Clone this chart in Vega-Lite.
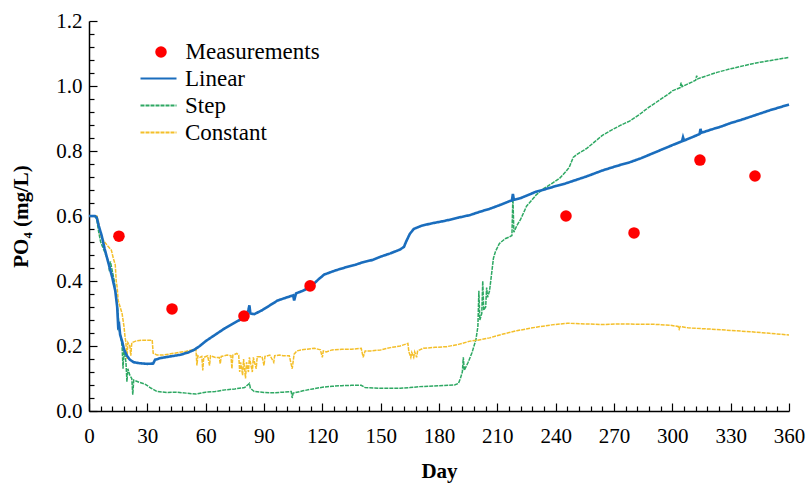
{
  "$schema": "https://vega.github.io/schema/vega-lite/v6.json",
  "width": 700,
  "height": 390,
  "autosize": {"type": "none"},
  "padding": {"left": 89, "top": 21, "right": 17, "bottom": 73},
  "background": "white",
  "config": {"view": {"stroke": null}, "font": "Liberation Serif",
    "legend": {"title": null, "labelFont": "Liberation Serif", "labelFontSize": 23, "labelColor": "black", "padding": 0}},
  "datasets": {
    "linear": [
      {"day":0,"value":0.60},{"day":3,"value":0.60},{"day":4,"value":0.595},{"day":5,"value":0.57},{"day":6.5,"value":0.54},{"day":8,"value":0.50},{"day":10,"value":0.455},{"day":12,"value":0.41},{"day":13.5,"value":0.37},{"day":14.5,"value":0.32},{"day":15,"value":0.26},{"day":15.5,"value":0.265},{"day":16,"value":0.235},{"day":17,"value":0.215},{"day":18,"value":0.19},{"day":19.5,"value":0.17},{"day":21,"value":0.158},{"day":23,"value":0.15},{"day":26,"value":0.147},{"day":30,"value":0.145},{"day":33,"value":0.146},{"day":34,"value":0.158},{"day":37,"value":0.163},{"day":42,"value":0.168},{"day":47,"value":0.173},{"day":51,"value":0.18},{"day":54,"value":0.188},{"day":57,"value":0.20},{"day":60,"value":0.215},{"day":65,"value":0.235},{"day":70,"value":0.255},{"day":75,"value":0.272},{"day":79,"value":0.285},{"day":81,"value":0.295},{"day":82,"value":0.312},{"day":82.5,"value":0.325},{"day":83,"value":0.30},{"day":85,"value":0.298},{"day":89,"value":0.31},{"day":93,"value":0.325},{"day":97,"value":0.34},{"day":102,"value":0.35},{"day":105,"value":0.356},{"day":105.5,"value":0.34},{"day":106.5,"value":0.362},{"day":110,"value":0.37},{"day":114,"value":0.382},{"day":118,"value":0.405},{"day":121,"value":0.42},{"day":127,"value":0.433},{"day":132,"value":0.442},{"day":137,"value":0.45},{"day":141,"value":0.458},{"day":146,"value":0.465},{"day":150,"value":0.475},{"day":155,"value":0.485},{"day":160,"value":0.497},{"day":162,"value":0.505},{"day":163,"value":0.52},{"day":165,"value":0.545},{"day":167,"value":0.56},{"day":171,"value":0.57},{"day":176,"value":0.577},{"day":183,"value":0.585},{"day":190,"value":0.595},{"day":196,"value":0.603},{"day":201,"value":0.613},{"day":206,"value":0.622},{"day":211,"value":0.633},{"day":216,"value":0.645},{"day":217.5,"value":0.648},{"day":218,"value":0.668},{"day":218.5,"value":0.65},{"day":222,"value":0.655},{"day":226,"value":0.665},{"day":230,"value":0.675},{"day":235,"value":0.683},{"day":240,"value":0.692},{"day":245,"value":0.70},{"day":250,"value":0.71},{"day":256,"value":0.722},{"day":264,"value":0.74},{"day":272,"value":0.755},{"day":278,"value":0.765},{"day":284,"value":0.778},{"day":290,"value":0.793},{"day":296,"value":0.808},{"day":300,"value":0.818},{"day":305,"value":0.83},{"day":305.5,"value":0.842},{"day":306,"value":0.832},{"day":310,"value":0.842},{"day":314,"value":0.852},{"day":314.5,"value":0.868},{"day":315,"value":0.856},{"day":320,"value":0.866},{"day":325,"value":0.875},{"day":330,"value":0.886},{"day":335,"value":0.895},{"day":340,"value":0.905},{"day":345,"value":0.915},{"day":350,"value":0.925},{"day":355,"value":0.934},{"day":360,"value":0.943}
    ],
    "step": [
      {"day":0,"value":0.60},{"day":3,"value":0.60},{"day":4,"value":0.59},{"day":5,"value":0.55},{"day":6,"value":0.52},{"day":8,"value":0.49},{"day":10,"value":0.46},{"day":10.5,"value":0.43},{"day":11,"value":0.46},{"day":12,"value":0.43},{"day":13,"value":0.40},{"day":14,"value":0.35},{"day":15,"value":0.30},{"day":15.5,"value":0.25},{"day":16,"value":0.24},{"day":17,"value":0.20},{"day":17.5,"value":0.13},{"day":18,"value":0.19},{"day":19,"value":0.15},{"day":19.5,"value":0.09},{"day":20,"value":0.13},{"day":21,"value":0.11},{"day":22,"value":0.10},{"day":22.5,"value":0.05},{"day":23,"value":0.095},{"day":26,"value":0.088},{"day":29,"value":0.082},{"day":32,"value":0.07},{"day":35,"value":0.06},{"day":40,"value":0.057},{"day":45,"value":0.058},{"day":50,"value":0.055},{"day":55,"value":0.052},{"day":60,"value":0.058},{"day":65,"value":0.06},{"day":70,"value":0.065},{"day":75,"value":0.068},{"day":80,"value":0.072},{"day":82.5,"value":0.085},{"day":83,"value":0.07},{"day":85,"value":0.06},{"day":90,"value":0.057},{"day":95,"value":0.056},{"day":100,"value":0.058},{"day":104,"value":0.06},{"day":104.5,"value":0.04},{"day":105,"value":0.055},{"day":110,"value":0.062},{"day":115,"value":0.068},{"day":120,"value":0.073},{"day":125,"value":0.076},{"day":130,"value":0.078},{"day":135,"value":0.079},{"day":140,"value":0.079},{"day":142,"value":0.072},{"day":150,"value":0.07},{"day":160,"value":0.07},{"day":165,"value":0.072},{"day":170,"value":0.075},{"day":180,"value":0.078},{"day":188,"value":0.08},{"day":190,"value":0.085},{"day":191,"value":0.10},{"day":192,"value":0.12},{"day":192.5,"value":0.165},{"day":193,"value":0.125},{"day":195,"value":0.15},{"day":197,"value":0.18},{"day":199,"value":0.22},{"day":200,"value":0.26},{"day":200.5,"value":0.37},{"day":201,"value":0.28},{"day":202,"value":0.30},{"day":202.5,"value":0.40},{"day":203,"value":0.31},{"day":204,"value":0.32},{"day":204.5,"value":0.38},{"day":205,"value":0.35},{"day":206,"value":0.37},{"day":207,"value":0.42},{"day":208,"value":0.47},{"day":209,"value":0.49},{"day":211,"value":0.515},{"day":214,"value":0.53},{"day":216,"value":0.535},{"day":217.5,"value":0.54},{"day":218,"value":0.66},{"day":218.5,"value":0.55},{"day":220,"value":0.57},{"day":222,"value":0.59},{"day":225,"value":0.63},{"day":230,"value":0.665},{"day":234,"value":0.685},{"day":238,"value":0.70},{"day":242,"value":0.716},{"day":245,"value":0.735},{"day":247,"value":0.75},{"day":249,"value":0.78},{"day":251,"value":0.79},{"day":256,"value":0.808},{"day":260,"value":0.828},{"day":264,"value":0.848},{"day":268,"value":0.862},{"day":273,"value":0.878},{"day":278,"value":0.892},{"day":283,"value":0.912},{"day":288,"value":0.935},{"day":293,"value":0.955},{"day":298,"value":0.975},{"day":300,"value":0.985},{"day":304,"value":0.995},{"day":304.5,"value":1.01},{"day":305,"value":0.998},{"day":310,"value":1.012},{"day":312,"value":1.018},{"day":312.5,"value":1.032},{"day":313,"value":1.022},{"day":318,"value":1.032},{"day":323,"value":1.042},{"day":330,"value":1.053},{"day":335,"value":1.06},{"day":340,"value":1.067},{"day":345,"value":1.073},{"day":350,"value":1.078},{"day":355,"value":1.083},{"day":360,"value":1.088}
    ],
    "constant": [
      {"day":0,"value":0.60},{"day":4,"value":0.60},{"day":5,"value":0.58},{"day":6,"value":0.54},{"day":7,"value":0.53},{"day":8,"value":0.52},{"day":10,"value":0.505},{"day":11.5,"value":0.495},{"day":12.5,"value":0.47},{"day":13.5,"value":0.45},{"day":14,"value":0.40},{"day":14.5,"value":0.38},{"day":15,"value":0.34},{"day":16,"value":0.32},{"day":17,"value":0.30},{"day":18,"value":0.26},{"day":18.5,"value":0.23},{"day":19,"value":0.21},{"day":19.5,"value":0.16},{"day":20,"value":0.21},{"day":21,"value":0.20},{"day":21.5,"value":0.17},{"day":22,"value":0.21},{"day":24,"value":0.215},{"day":27,"value":0.218},{"day":30,"value":0.218},{"day":32.5,"value":0.218},{"day":33,"value":0.178},{"day":35,"value":0.172},{"day":38,"value":0.172},{"day":42,"value":0.176},{"day":46,"value":0.18},{"day":50,"value":0.184},{"day":53,"value":0.188},{"day":55,"value":0.19},{"day":55.5,"value":0.14},{"day":56,"value":0.17},{"day":57,"value":0.165},{"day":58,"value":0.168},{"day":58.5,"value":0.125},{"day":59,"value":0.165},{"day":61,"value":0.17},{"day":62,"value":0.14},{"day":62.5,"value":0.17},{"day":65,"value":0.165},{"day":67,"value":0.165},{"day":67.5,"value":0.145},{"day":68,"value":0.168},{"day":71,"value":0.172},{"day":73,"value":0.17},{"day":73.5,"value":0.13},{"day":74,"value":0.172},{"day":76,"value":0.177},{"day":77,"value":0.172},{"day":77.5,"value":0.12},{"day":78,"value":0.15},{"day":79,"value":0.11},{"day":79.5,"value":0.16},{"day":80.5,"value":0.10},{"day":81,"value":0.15},{"day":82,"value":0.12},{"day":82.5,"value":0.165},{"day":84,"value":0.12},{"day":84.5,"value":0.165},{"day":86,"value":0.13},{"day":86.5,"value":0.167},{"day":89,"value":0.167},{"day":90,"value":0.14},{"day":90.5,"value":0.168},{"day":93,"value":0.172},{"day":95,"value":0.15},{"day":95.5,"value":0.17},{"day":98,"value":0.172},{"day":100,"value":0.17},{"day":103,"value":0.17},{"day":104.5,"value":0.13},{"day":105.5,"value":0.175},{"day":107,"value":0.185},{"day":109,"value":0.188},{"day":112,"value":0.19},{"day":116,"value":0.193},{"day":119,"value":0.188},{"day":120,"value":0.165},{"day":120.5,"value":0.185},{"day":122,"value":0.182},{"day":125,"value":0.188},{"day":130,"value":0.19},{"day":135,"value":0.19},{"day":140,"value":0.193},{"day":141,"value":0.165},{"day":142,"value":0.185},{"day":145,"value":0.185},{"day":150,"value":0.188},{"day":155,"value":0.195},{"day":160,"value":0.20},{"day":164,"value":0.208},{"day":164.5,"value":0.182},{"day":165.5,"value":0.165},{"day":166,"value":0.18},{"day":167,"value":0.165},{"day":167.5,"value":0.182},{"day":168.5,"value":0.165},{"day":169,"value":0.185},{"day":172,"value":0.193},{"day":178,"value":0.196},{"day":184,"value":0.198},{"day":190,"value":0.205},{"day":196,"value":0.215},{"day":200,"value":0.218},{"day":206,"value":0.225},{"day":213,"value":0.237},{"day":220,"value":0.247},{"day":230,"value":0.258},{"day":238,"value":0.265},{"day":246,"value":0.27},{"day":255,"value":0.268},{"day":264,"value":0.266},{"day":272,"value":0.268},{"day":283,"value":0.267},{"day":290,"value":0.267},{"day":299,"value":0.264},{"day":303,"value":0.26},{"day":303.5,"value":0.252},{"day":304,"value":0.26},{"day":308,"value":0.256},{"day":310,"value":0.255},{"day":320,"value":0.252},{"day":330,"value":0.248},{"day":340,"value":0.244},{"day":350,"value":0.239},{"day":360,"value":0.234}
    ],
    "measurements": [
      {"day":15.4,"value":0.538},{"day":42.7,"value":0.314},{"day":79.7,"value":0.292},{"day":113.7,"value":0.385},{"day":245.3,"value":0.60},{"day":280.3,"value":0.548},{"day":314.2,"value":0.772},{"day":342.5,"value":0.723}
    ]
  },
  "data": {"name": "linear"},
  "encoding": {
    "x": {
      "field": "day", "type": "quantitative",
      "scale": {"domain": [0, 360], "nice": false, "zero": false},
      "axis": {
        "title": "Day",
        "values": [0,6,12,18,24,30,36,42,48,54,60,66,72,78,84,90,96,102,108,114,120,126,132,138,144,150,156,162,168,174,180,186,192,198,204,210,216,222,228,234,240,246,252,258,264,270,276,282,288,294,300,306,312,318,324,330,336,342,348,354,360],
        "format": "d",
        "labelExpr": "datum.value % 30 === 0 ? datum.label : ''",
        "tickSize": {"condition": {"test": "datum.value % 30 === 0", "value": -8}, "value": -5},
        "tickColor": "black", "tickWidth": 1.2,
        "domainColor": "black", "domainWidth": 1.5,
        "grid": false,
        "labelFont": "Liberation Serif", "labelFontSize": 21, "labelColor": "black",
        "labelPadding": 22, "labelFlush": false, "labelOverlap": false,
        "titleFont": "Liberation Serif", "titleFontSize": 21, "titleFontWeight": "bold", "titleColor": "black",
        "titleBaseline": "alphabetic", "titleY": 66
      }
    },
    "y": {
      "field": "value", "type": "quantitative",
      "scale": {"domain": [0, 1.2], "nice": false},
      "axis": {
        "title": "PO₄ (mg/L)",
        "values": [0,0.04,0.08,0.12,0.16,0.2,0.24,0.28,0.32,0.36,0.4,0.44,0.48,0.52,0.56,0.6,0.64,0.68,0.72,0.76,0.8,0.84,0.88,0.92,0.96,1.0,1.04,1.08,1.12,1.16,1.2],
        "labelExpr": "abs(datum.value*5 - round(datum.value*5)) < 0.001 ? format(datum.value, '.1f') : ''",
        "tickSize": {"condition": {"test": "abs(datum.value*5 - round(datum.value*5)) < 0.001", "value": -8}, "value": -5},
        "tickColor": "black", "tickWidth": 1.2,
        "domainColor": "black", "domainWidth": 1.5,
        "grid": false,
        "labelFont": "Liberation Serif", "labelFontSize": 21, "labelColor": "black",
        "labelPadding": 15, "labelOverlap": false, "labelFlush": false,
        "titleFont": "Liberation Serif", "titleFontSize": 21, "titleFontWeight": "bold", "titleColor": "black",
        "titleBaseline": "alphabetic", "titleX": -62
      }
    }
  },
  "layer": [
    {
      "data": {"name": "step"},
      "mark": {"type": "line", "strokeWidth": 1.5},
      "encoding": {
        "stroke": {"datum": "Step", "type": "nominal",
          "scale": {"domain": ["Linear", "Step", "Constant"], "range": ["#1a6dbd", "#2ea863", "#f4bf2a"]},
          "legend": {"orient": "none", "legendX": 58, "legendY": 46, "symbolType": "M-3,0H3", "symbolSize": 144, "symbolStrokeWidth": 1.8, "labelOffset": 15, "rowPadding": 3}},
        "strokeDash": {"datum": "Step", "type": "nominal",
          "scale": {"domain": ["Linear", "Step", "Constant"], "range": [[1, 0], [4, 1], [4, 1]]},
          "legend": {"orient": "none", "legendX": 58, "legendY": 46, "symbolType": "M-3,0H3", "symbolSize": 144, "symbolStrokeWidth": 1.8, "labelOffset": 15, "rowPadding": 3}}
      }
    },
    {
      "data": {"name": "constant"},
      "mark": {"type": "line", "strokeWidth": 1.5},
      "encoding": {
        "stroke": {"datum": "Constant", "type": "nominal",
          "legend": {"orient": "none", "legendX": 58, "legendY": 46, "symbolType": "M-3,0H3", "symbolSize": 144, "symbolStrokeWidth": 1.8, "labelOffset": 15, "rowPadding": 3}},
        "strokeDash": {"datum": "Constant", "type": "nominal",
          "legend": {"orient": "none", "legendX": 58, "legendY": 46, "symbolType": "M-3,0H3", "symbolSize": 144, "symbolStrokeWidth": 1.8, "labelOffset": 15, "rowPadding": 3}}
      }
    },
    {
      "data": {"name": "linear"},
      "mark": {"type": "line", "strokeWidth": 2.6},
      "encoding": {
        "stroke": {"datum": "Linear", "type": "nominal",
          "legend": {"orient": "none", "legendX": 58, "legendY": 46, "symbolType": "M-3,0H3", "symbolSize": 144, "symbolStrokeWidth": 1.8, "labelOffset": 15, "rowPadding": 3}},
        "strokeDash": {"datum": "Linear", "type": "nominal",
          "legend": {"orient": "none", "legendX": 58, "legendY": 46, "symbolType": "M-3,0H3", "symbolSize": 144, "symbolStrokeWidth": 1.8, "labelOffset": 15, "rowPadding": 3}}
      }
    },
    {
      "data": {"name": "measurements"},
      "mark": {"type": "point", "filled": true, "size": 133, "opacity": 1},
      "encoding": {
        "fill": {"datum": "Measurements", "type": "nominal",
          "scale": {"domain": ["Measurements"], "range": ["#ff0000"]},
          "legend": {"orient": "none", "legendX": 60.5, "legendY": 19.5, "symbolType": "circle", "symbolSize": 133, "labelOffset": 13}
        }
      }
    }
  ]
}
